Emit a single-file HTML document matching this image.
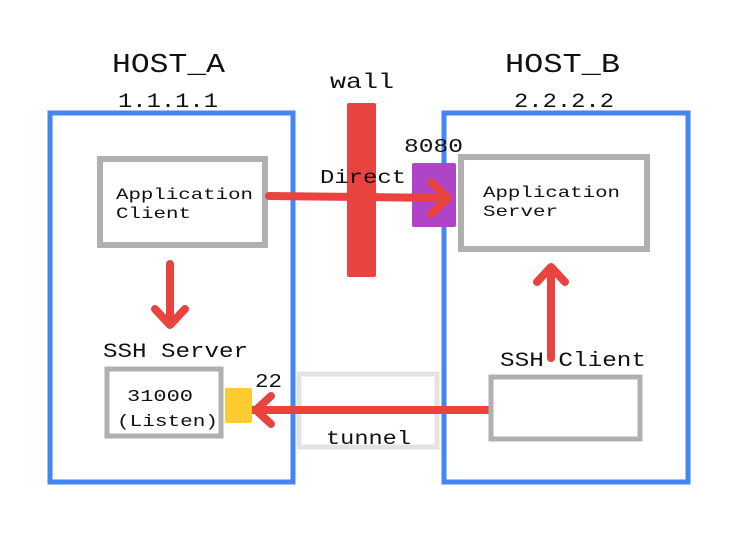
<!DOCTYPE html>
<html><head><style>body{margin:0;background:#fff}svg{display:block}</style></head><body>
<svg width="748" height="556" xmlns="http://www.w3.org/2000/svg" font-family="'Liberation Mono', monospace">
<rect width="748" height="556" fill="#fff"/>
<text x="112" y="72" font-size="27" textLength="113" lengthAdjust="spacingAndGlyphs" fill="#111">HOST_A</text>
<text x="118" y="107" font-size="20" textLength="100" lengthAdjust="spacingAndGlyphs" fill="#111">1.1.1.1</text>
<text x="505" y="72" font-size="27" textLength="115" lengthAdjust="spacingAndGlyphs" fill="#111">HOST_B</text>
<text x="514" y="107" font-size="20" textLength="100" lengthAdjust="spacingAndGlyphs" fill="#111">2.2.2.2</text>
<text x="330" y="88" font-size="21" textLength="64" lengthAdjust="spacingAndGlyphs" fill="#111">wall</text>
<rect x="50" y="113" width="243" height="369" fill="none" stroke="#4285f4" stroke-width="5"/>
<rect x="444" y="113" width="244" height="369" fill="none" stroke="#4285f4" stroke-width="5"/>
<rect x="347" y="103" width="29" height="174" rx="2" fill="#e8433f"/>
<rect x="299" y="374" width="138" height="73" fill="none" stroke="#e3e3e3" stroke-width="5"/>
<text x="326" y="444" font-size="19" textLength="85" lengthAdjust="spacingAndGlyphs" fill="#111">tunnel</text>
<rect x="100" y="159" width="165" height="86" fill="#fff" stroke="#b0b0b0" stroke-width="6"/>
<text x="116" y="199" font-size="16" textLength="137" lengthAdjust="spacingAndGlyphs" fill="#111">Application</text>
<text x="116" y="218" font-size="16" textLength="75" lengthAdjust="spacingAndGlyphs" fill="#111">Client</text>
<rect x="461" y="157" width="186" height="92" fill="#fff" stroke="#b0b0b0" stroke-width="6"/>
<text x="483" y="197" font-size="16" textLength="137" lengthAdjust="spacingAndGlyphs" fill="#111">Application</text>
<text x="483" y="216" font-size="16" textLength="75" lengthAdjust="spacingAndGlyphs" fill="#111">Server</text>
<rect x="412" y="163" width="44" height="64" rx="2" fill="#b044c8"/>
<text x="404" y="152" font-size="19" textLength="59" lengthAdjust="spacingAndGlyphs" fill="#111">8080</text>
<text x="320" y="183" font-size="19" textLength="86" lengthAdjust="spacingAndGlyphs" fill="#111">Direct</text>
<g stroke="#e8433f" stroke-width="8" stroke-linecap="round" stroke-linejoin="round" fill="none">
<line x1="269" y1="196" x2="446" y2="198"/>
<polyline points="431,182 448,198 431,214"/>
<line x1="170" y1="264" x2="170" y2="324"/>
<polyline points="155,309 170,325 185,309"/>
<line x1="551" y1="358" x2="551" y2="268"/>
<polyline points="537,282 551,267 565,282"/>
<line x1="489" y1="410" x2="256" y2="410"/>
<polyline points="271,396 256,410 271,424"/>
</g>
<text x="103" y="357" font-size="20" textLength="145" lengthAdjust="spacingAndGlyphs" fill="#111">SSH Server</text>
<rect x="107" y="369" width="114" height="67" fill="#fff" stroke="#b0b0b0" stroke-width="5"/>
<text x="127" y="401" font-size="17" textLength="66" lengthAdjust="spacingAndGlyphs" fill="#111">31000</text>
<text x="117" y="426" font-size="17" textLength="101" lengthAdjust="spacingAndGlyphs" fill="#111">(Listen)</text>
<rect x="225" y="388" width="27" height="35" rx="2" fill="#fbcb30"/>
<line x1="252" y1="410" x2="262" y2="410" stroke="#e8433f" stroke-width="8"/>
<text x="255" y="387" font-size="19" textLength="27" lengthAdjust="spacingAndGlyphs" fill="#111">22</text>
<text x="500" y="366" font-size="20" textLength="146" lengthAdjust="spacingAndGlyphs" fill="#111">SSH Client</text>
<rect x="491" y="377" width="149" height="62" fill="#fff" stroke="#b0b0b0" stroke-width="5"/>
</svg>
</body></html>
